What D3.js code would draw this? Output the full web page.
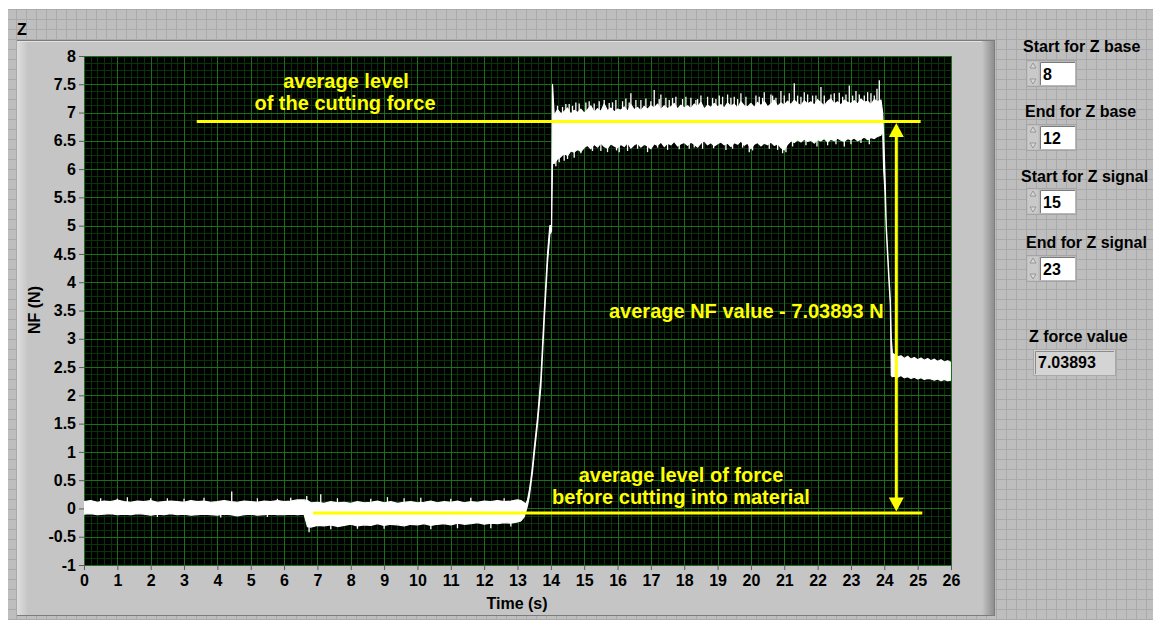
<!DOCTYPE html>
<html>
<head>
<meta charset="utf-8">
<script src="https://cdn.jsdelivr.net/npm/d3@7/dist/d3.min.js"></script>
<style>
  html, body { margin: 0; padding: 0; background: #fff; }
  svg { display: block; font-family: "Liberation Sans", Arial, sans-serif; font-weight: bold; }
</style>
</head>
<body>
<div id="chart"></div>
<script>
// Z force signal from a cutting test.

// Tick labels.
const xTicks = [0, 1, 2, 3, 4, 5, 6, 7, 8, 9, 10, 11, 12, 13, 14, 15, 16, 17, 18, 19, 20, 21, 22, 23, 24, 25, 26];
const yTicks = [-1, -0.5, 0, 0.5, 1, 1.5, 2, 2.5, 3, 3.5, 4, 4.5, 5, 5.5, 6, 6.5, 7, 7.5, 8];

// Signal envelope (upper / lower edge of the noisy trace), in s and N.
// Base level before the tool moves.
const baseTime = [0, 0.2, 0.4, 0.6, 0.8, 1, 1.2, 1.4, 1.6, 1.8, 2, 2.2, 2.4, 2.6, 2.8, 3, 3.2, 3.4, 3.6, 3.8, 4, 4.2, 4.4, 4.6, 4.8, 5, 5.2, 5.4, 5.6, 5.8, 6, 6.2, 6.4, 6.6];
const baseHigh = [0.12, 0.14, 0.11, 0.13, 0.12, 0.15, 0.12, 0.11, 0.13, 0.12, 0.14, 0.11, 0.12, 0.13, 0.12, 0.11, 0.14, 0.12, 0.13, 0.11, 0.12, 0.14, 0.12, 0.11, 0.13, 0.12, 0.11, 0.13, 0.12, 0.14, 0.12, 0.13, 0.15, 0.15];
const baseLow = [-0.1, -0.09, -0.11, -0.1, -0.09, -0.11, -0.1, -0.11, -0.09, -0.1, -0.12, -0.1, -0.11, -0.09, -0.11, -0.1, -0.12, -0.11, -0.1, -0.11, -0.12, -0.1, -0.11, -0.13, -0.11, -0.1, -0.12, -0.11, -0.1, -0.11, -0.11, -0.1, -0.11, -0.1];

// Tool touching down, still outside the material.
const restTime = [6.7, 6.8, 7, 7.2, 7.4, 7.6, 7.8, 8, 8.2, 8.4, 8.6, 8.8, 9, 9.2, 9.4, 9.6, 9.8, 10, 10.2, 10.4, 10.6, 10.8, 11, 11.2, 11.4, 11.6, 11.8, 12, 12.2, 12.4, 12.6, 12.8, 13, 13.1];
const restHigh = [0.14, 0.1, 0.11, 0.09, 0.12, 0.1, 0.11, 0.09, 0.12, 0.1, 0.11, 0.13, 0.1, 0.12, 0.09, 0.11, 0.12, 0.1, 0.11, 0.13, 0.1, 0.12, 0.11, 0.13, 0.1, 0.12, 0.11, 0.13, 0.12, 0.14, 0.12, 0.13, 0.15, 0.14];
const restLow = [-0.32, -0.33, -0.3, -0.31, -0.29, -0.32, -0.3, -0.28, -0.31, -0.29, -0.3, -0.27, -0.3, -0.28, -0.29, -0.31, -0.28, -0.29, -0.27, -0.3, -0.28, -0.27, -0.29, -0.26, -0.28, -0.27, -0.25, -0.28, -0.26, -0.27, -0.25, -0.26, -0.24, -0.22];

// Rise while cutting in.
const riseTime = [13.2, 13.25, 13.3, 13.35, 13.4, 13.45, 13.5, 13.6, 13.7, 13.8, 13.9, 13.97, 14.02, 14.05];
const riseHigh = [0.1, 0.08, 0.15, 0.3, 0.5, 0.75, 1.05, 1.6, 2.3, 3.45, 4.5, 5.0, 5.0, 7.5];
const riseLow = [-0.15, -0.05, 0.05, 0.2, 0.42, 0.65, 0.95, 1.5, 2.15, 3.3, 4.35, 4.85, 4.9, 6.1];

// Cutting.
const cutTime = [14.1, 14.2, 14.3, 14.4, 14.5, 14.6, 14.7, 14.8, 14.9, 15,
  15.1, 15.2, 15.3, 15.4, 15.5, 15.6, 15.7, 15.8, 15.9, 16,
  16.1, 16.2, 16.3, 16.4, 16.5, 16.6, 16.7, 16.8, 16.9, 17,
  17.1, 17.2, 17.3, 17.4, 17.5, 17.6, 17.7, 17.8, 17.9, 18,
  18.1, 18.2, 18.3, 18.4, 18.5, 18.6, 18.7, 18.8, 18.9, 19,
  19.1, 19.2, 19.3, 19.4, 19.5, 19.6, 19.7, 19.8, 19.9, 20,
  20.1, 20.2, 20.3, 20.4, 20.5, 20.6, 20.7, 20.8, 20.9, 21,
  21.1, 21.2, 21.3, 21.4, 21.5, 21.6, 21.7, 21.8, 21.9, 22,
  22.1, 22.2, 22.3, 22.4, 22.5, 22.6, 22.7, 22.8, 22.9, 23,
  23.1, 23.2, 23.3, 23.4, 23.5, 23.6, 23.7, 23.8, 23.9];
const cutHigh = [6.95, 7.05, 6.98, 7.02, 7.08, 6.97, 7.04, 7.0, 7.06, 6.99,
  7.05, 7.12, 7.0, 7.07, 7.02, 7.15, 7.03, 7.08, 7.01, 7.06,
  7.04, 7.1, 7.02, 7.14, 7.05, 7.09, 7.03, 7.11, 7.06, 7.12,
  7.08, 7.15, 7.05, 7.12, 7.07, 7.1, 7.16, 7.06, 7.13, 7.08,
  7.12, 7.07, 7.15, 7.1, 7.18, 7.06, 7.13, 7.09, 7.16, 7.1,
  7.14, 7.08, 7.17, 7.11, 7.15, 7.07, 7.19, 7.12, 7.1, 7.16,
  7.09, 7.18, 7.12, 7.2, 7.1, 7.15, 7.22, 7.11, 7.17, 7.13,
  7.2, 7.14, 7.22, 7.16, 7.12, 7.21, 7.15, 7.19, 7.13, 7.23,
  7.17, 7.12, 7.2, 7.24, 7.15, 7.19, 7.13, 7.22, 7.18, 7.16,
  7.21, 7.15, 7.24, 7.18, 7.2, 7.14, 7.23, 7.19, 7.22];
const cutLow = [6.1, 6.18, 6.22, 6.28, 6.24, 6.32, 6.3, 6.35, 6.31, 6.38,
  6.42, 6.36, 6.44, 6.39, 6.46, 6.4, 6.37, 6.45, 6.41, 6.38,
  6.44, 6.4, 6.47, 6.37, 6.43, 6.46, 6.39, 6.44, 6.41, 6.36,
  6.45, 6.42, 6.48, 6.4, 6.46, 6.43, 6.49, 6.41, 6.45, 6.47,
  6.42, 6.48, 6.44, 6.39, 6.46, 6.5, 6.43, 6.47, 6.41, 6.45,
  6.48, 6.43, 6.46, 6.4, 6.47, 6.44, 6.5, 6.42, 6.46, 6.36,
  6.44, 6.47, 6.41, 6.46, 6.43, 6.48, 6.42, 6.45, 6.38, 6.34,
  6.44, 6.5, 6.47, 6.52, 6.48, 6.53, 6.49, 6.51, 6.46, 6.52,
  6.5, 6.54, 6.48, 6.53, 6.5, 6.55, 6.51, 6.49, 6.54, 6.52,
  6.55, 6.5, 6.53, 6.57, 6.52, 6.56, 6.54, 6.58, 6.6];

// Tool leaving the material.
const dropTime = [23.95, 23.98, 24.02, 24.06, 24.1, 24.14, 24.18, 24.21, 24.24];
const dropHigh = [7.0, 6.6, 5.9, 5.0, 4.55, 4.1, 3.7, 3.0, 2.75];
const dropLow = [6.7, 6.0, 5.6, 4.9, 4.45, 4.0, 3.6, 2.35, 2.33];

// After the cut.
const tailTime = [24.3, 24.4, 24.5, 24.6, 24.7, 24.8, 24.9, 25, 25.1, 25.2, 25.3, 25.4, 25.5, 25.6, 25.7, 25.8, 25.9, 26];
const tailHigh = [2.72, 2.68, 2.7, 2.65, 2.69, 2.64, 2.67, 2.63, 2.66, 2.62, 2.65, 2.61, 2.64, 2.6, 2.63, 2.59, 2.61, 2.58];
const tailLow = [2.34, 2.32, 2.35, 2.31, 2.33, 2.3, 2.32, 2.29, 2.31, 2.28, 2.3, 2.29, 2.27, 2.29, 2.26, 2.28, 2.26, 2.27];

// Single noise spikes sticking out of the band.
const spikeTime = [0.5, 1.0, 1.3, 2.0, 2.2, 2.5, 3.0, 3.6, 4.1, 4.43, 5.2, 5.5, 5.8, 6.2, 6.68,
  6.75, 7.1, 7.4, 7.6, 8.2, 8.6, 9.0, 9.1, 9.6, 10.1, 10.4, 11.0, 11.2, 11.6, 12.2, 12.6, 12.8,
  14.15, 14.2, 14.25, 14.35, 14.4, 14.45, 14.5, 14.55, 14.65, 14.7, 14.75, 14.85, 14.9,
  15.05, 15.15, 15.25, 15.3, 15.45, 15.5, 15.6, 15.7, 15.75, 15.85, 15.95, 15.97,
  16.05, 16.15, 16.25, 16.3, 16.35, 16.4, 16.55, 16.6, 16.7, 16.85, 16.9, 17.0,
  17.1, 17.2, 17.25, 17.3, 17.45, 17.5, 17.55, 17.65, 17.75, 17.85, 17.95,
  18.05, 18.15, 18.2, 18.3, 18.35, 18.4, 18.5, 18.55, 18.7, 18.85, 18.88, 18.95,
  19.05, 19.15, 19.25, 19.3, 19.4, 19.45, 19.5, 19.6, 19.7, 19.75, 19.85, 19.95,
  20.05, 20.15, 20.25, 20.35, 20.4, 20.55, 20.6, 20.65, 20.75, 20.8, 20.9, 20.95,
  21.0, 21.05, 21.15, 21.25, 21.3, 21.4, 21.5, 21.6, 21.65, 21.7, 21.85, 21.95, 21.98,
  22.1, 22.2, 22.3, 22.4, 22.5, 22.55, 22.65, 22.75, 22.8, 22.85, 22.95,
  23.0, 23.05, 23.15, 23.25, 23.3, 23.4, 23.5, 23.55, 23.6, 23.7, 23.78, 23.85];
const spikeForce = [0.18, 0.17, 0.2, 0.18, -0.15, 0.18, 0.17, 0.19, -0.16, 0.3, 0.18, -0.15, 0.17, 0.19, 0.22,
  -0.42, 0.25, -0.37, 0.18, -0.36, 0.17, -0.36, 0.2, 0.18, 0.19, -0.37, 0.17, -0.35, 0.19, -0.35, 0.18, -0.32,
  6.05, 7.12, 6.12, 7.1, 6.15, 7.15, 6.18, 7.15, 7.12, 6.2, 7.18, 7.16, 6.28,
  7.18, 7.2, 6.32, 7.16, 7.2, 6.32, 7.22, 6.3, 7.17, 7.18, 7.22, 6.33,
  6.3, 7.2, 7.25, 6.32, 7.18, 7.34, 7.22, 6.36, 7.22, 7.25, 6.3, 7.2,
  7.4, 6.38, 7.24, 7.32, 7.26, 6.34, 7.22, 7.26, 7.28, 6.35, 7.24,
  7.28, 6.36, 7.26, 6.38, 7.22, 7.24, 7.3, 6.36, 7.28, 7.26, 6.37, 7.24,
  7.3, 7.28, 6.34, 7.32, 7.26, 6.36, 7.28, 7.24, 7.34, 6.38, 7.28, 6.3,
  6.33, 7.3, 7.28, 7.26, 7.36, 6.36, 7.32, 7.3, 7.26, 6.34, 7.38, 6.28,
  7.3, 6.3, 7.34, 6.4, 7.52, 7.3, 7.28, 7.36, 6.42, 7.32, 7.3, 7.3, 6.4,
  7.45, 7.3, 6.42, 7.32, 7.34, 6.44, 7.35, 7.28, 6.4, 7.32, 7.48,
  6.44, 7.3, 7.38, 7.32, 6.46, 7.3, 7.36, 6.44, 7.34, 7.3, 7.42, 7.57];

// Annotation levels (N) and their time extents (s).
const cutLevel = 6.84;
const cutLevelSpan = [3.38, 25.09];
const baseLevel = -0.08;
const baseLevelSpan = [6.87, 25.14];
const arrowTime = 24.36;

// Front panel controls.
const controlLabels = ['Start for Z base', 'End for Z base', 'Start for Z signal', 'End for Z signal'];
const controlValues = ['8', '12', '15', '23'];
const indicatorLabel = 'Z force value';
const indicatorValue = '7.03893';

function drawPanel() {
    const width = 1153;
    const height = 620;

    const svg = d3.select('#chart')
        .append('svg')
        .attr('width', width)
        .attr('height', height);

    const defs = svg.append('defs');

    // Front panel grid pattern.
    const pattern = defs.append('pattern')
        .attr('id', 'panelGrid')
        .attr('patternUnits', 'userSpaceOnUse')
        .attr('x', 7)
        .attr('y', 0)
        .attr('width', 10)
        .attr('height', 10);
    pattern.append('rect')
        .attr('width', 10)
        .attr('height', 10)
        .attr('fill', '#bebebe');
    pattern.append('path')
        .attr('d', 'M9.5,0V10M0,9.5H10')
        .attr('stroke', '#aaaaaa')
        .attr('stroke-width', 1);

    // Bevel gradients for the graph frame.
    const leftBevel = defs.append('linearGradient').attr('id', 'leftBevel');
    leftBevel.append('stop').attr('offset', '0%').attr('stop-color', '#dedede');
    leftBevel.append('stop').attr('offset', '100%').attr('stop-color', '#c8c8c8');
    const rightShade = defs.append('linearGradient').attr('id', 'rightShade');
    rightShade.append('stop').attr('offset', '0%').attr('stop-color', '#c5c5c5');
    rightShade.append('stop').attr('offset', '100%').attr('stop-color', '#8e8e8e');

    defs.append('clipPath').attr('id', 'plotClip')
        .append('rect')
        .attr('x', 84).attr('y', 56)
        .attr('width', 867).attr('height', 509);

    svg.append('rect')
        .attr('x', 8).attr('y', 9)
        .attr('width', width - 8).attr('height', height - 9)
        .attr('fill', 'url(#panelGrid)');

    // Graph frame.
    svg.append('rect')
        .attr('x', 17).attr('y', 40)
        .attr('width', 978).attr('height', 576)
        .attr('fill', '#c5c5c5');
    svg.append('rect')
        .attr('x', 17).attr('y', 40)
        .attr('width', 10).attr('height', 576)
        .attr('fill', 'url(#leftBevel)');
    svg.append('rect')
        .attr('x', 982).attr('y', 40)
        .attr('width', 12).attr('height', 576)
        .attr('fill', 'url(#rightShade)');
    svg.append('path')
        .attr('d', 'M17,40.5H994M994.5,40V616M17,615.5H995')
        .attr('stroke', '#7c7c7c')
        .attr('stroke-width', 1)
        .attr('fill', 'none');
    svg.append('path')
        .attr('d', 'M17,41.5H982')
        .attr('stroke', '#e2e2e2')
        .attr('fill', 'none');

    svg.append('text')
        .attr('x', 17).attr('y', 35)
        .attr('font-size', 16)
        .attr('fill', '#000')
        .text('Z');

    const x = d3.scaleLinear().domain([0, 26]).range([84, 951]);
    const y = d3.scaleLinear().domain([-1, 8]).range([565, 56]);

    // Plot background and grid.
    svg.append('rect')
        .attr('x', 84).attr('y', 56)
        .attr('width', 867).attr('height', 509)
        .attr('fill', '#000');

    const grid = svg.append('g').attr('shape-rendering', 'crispEdges');
    grid.selectAll('.minor-x')
        .data(d3.range(0, 26.001, 0.2))
        .enter().append('line')
        .attr('x1', d => Math.round(x(d)) + 0.5).attr('x2', d => Math.round(x(d)) + 0.5)
        .attr('y1', 56).attr('y2', 565)
        .attr('stroke', '#093409');
    grid.selectAll('.minor-y')
        .data(d3.range(-1, 8.001, 0.125))
        .enter().append('line')
        .attr('y1', d => Math.round(y(d)) + 0.5).attr('y2', d => Math.round(y(d)) + 0.5)
        .attr('x1', 84).attr('x2', 951)
        .attr('stroke', '#093409');
    grid.selectAll('.major-x')
        .data(xTicks)
        .enter().append('line')
        .attr('x1', d => Math.round(x(d)) + 0.5).attr('x2', d => Math.round(x(d)) + 0.5)
        .attr('y1', 56).attr('y2', 565)
        .attr('stroke', '#197019');
    grid.selectAll('.major-y')
        .data(yTicks)
        .enter().append('line')
        .attr('y1', d => Math.round(y(d)) + 0.5).attr('y2', d => Math.round(y(d)) + 0.5)
        .attr('x1', 84).attr('x2', 951)
        .attr('stroke', '#197019');

    // Axes.
    const xAxis = svg.append('g')
        .attr('transform', 'translate(0,565)')
        .call(d3.axisBottom(x).tickValues(xTicks).tickSize(5).tickPadding(5).tickFormat(d => String(d)));
    const yAxis = svg.append('g')
        .attr('transform', 'translate(84,0)')
        .call(d3.axisLeft(y).tickValues(yTicks).tickSize(5).tickPadding(3).tickFormat(d => String(d)));
    [xAxis, yAxis].forEach(axis => {
        axis.select('.domain').remove();
        axis.selectAll('line').attr('stroke', '#5a5a5a');
        axis.selectAll('text')
            .attr('fill', '#000')
            .attr('font-size', 16)
            .attr('font-family', '"Liberation Sans", Arial, sans-serif')
            .attr('font-weight', 'bold');
    });

    svg.append('text')
        .attr('x', 517).attr('y', 609)
        .attr('text-anchor', 'middle')
        .attr('font-size', 16)
        .text('Time (s)');
    svg.append('text')
        .attr('transform', 'translate(40,310) rotate(-90)')
        .attr('text-anchor', 'middle')
        .attr('font-size', 16)
        .text('NF (N)');

    // Signal band.
    const signal = []
        .concat(baseTime.map((t, i) => ({ t, hi: baseHigh[i], lo: baseLow[i] })))
        .concat(restTime.map((t, i) => ({ t, hi: restHigh[i], lo: restLow[i] })))
        .concat(riseTime.map((t, i) => ({ t, hi: riseHigh[i], lo: riseLow[i] })))
        .concat(cutTime.map((t, i) => ({ t, hi: cutHigh[i], lo: cutLow[i] })))
        .concat(dropTime.map((t, i) => ({ t, hi: dropHigh[i], lo: dropLow[i] })))
        .concat(tailTime.map((t, i) => ({ t, hi: tailHigh[i], lo: tailLow[i] })));

    const plot = svg.append('g').attr('clip-path', 'url(#plotClip)');

    const band = d3.area()
        .x(d => x(d.t))
        .y0(d => y(d.lo))
        .y1(d => y(d.hi));

    plot.append('path')
        .datum(signal)
        .attr('d', band)
        .attr('fill', '#fff')
        .attr('stroke', '#fff')
        .attr('stroke-width', 1.2)
        .attr('stroke-linejoin', 'round');

    // Spikes start from the middle of the nearest band sample.
    const bisect = d3.bisector(d => d.t).center;
    plot.selectAll('.spike')
        .data(spikeTime.map((t, i) => ({ t, v: spikeForce[i] })))
        .enter().append('line')
        .attr('x1', d => x(d.t)).attr('x2', d => x(d.t))
        .attr('y1', d => {
            const s = signal[bisect(signal, d.t)];
            return y((s.hi + s.lo) / 2);
        })
        .attr('y2', d => y(d.v))
        .attr('stroke', '#fff')
        .attr('stroke-width', 1.3);

    // Yellow annotations.
    const yellow = '#ffff00';
    const notes = svg.append('g');
    notes.append('line')
        .attr('x1', x(cutLevelSpan[0])).attr('x2', x(cutLevelSpan[1]))
        .attr('y1', y(cutLevel)).attr('y2', y(cutLevel))
        .attr('stroke', yellow).attr('stroke-width', 3);
    notes.append('line')
        .attr('x1', x(baseLevelSpan[0])).attr('x2', x(baseLevelSpan[1]))
        .attr('y1', y(baseLevel)).attr('y2', y(baseLevel))
        .attr('stroke', yellow).attr('stroke-width', 3);

    const ax = x(arrowTime);
    const top = y(cutLevel) + 1.5;
    const bottom = y(baseLevel) - 1.5;
    notes.append('line')
        .attr('x1', ax).attr('x2', ax)
        .attr('y1', top + 12).attr('y2', bottom - 12)
        .attr('stroke', yellow).attr('stroke-width', 3);
    notes.append('path')
        .attr('d', `M${ax},${top}L${ax - 7.5},${top + 14}L${ax + 7.5},${top + 14}Z`)
        .attr('fill', yellow);
    notes.append('path')
        .attr('d', `M${ax},${bottom}L${ax - 7.5},${bottom - 14}L${ax + 7.5},${bottom - 14}Z`)
        .attr('fill', yellow);

    const noteText = [
        { text: 'average level', x: 346, y: 88, anchor: 'middle' },
        { text: 'of the cutting force', x: 345, y: 110, anchor: 'middle' },
        { text: 'average NF value - 7.03893 N', x: 609, y: 318, anchor: 'start' },
        { text: 'average level of force', x: 681, y: 482, anchor: 'middle' },
        { text: 'before cutting into material', x: 681, y: 504, anchor: 'middle' }
    ];
    notes.selectAll('.note')
        .data(noteText)
        .enter().append('text')
        .attr('x', d => d.x).attr('y', d => d.y)
        .attr('text-anchor', d => d.anchor)
        .attr('font-size', 20)
        .attr('fill', yellow)
        .text(d => d.text);

    // Numeric controls on the right.
    const labelX = [1023, 1025, 1021, 1026];
    const labelY = [52, 117, 182, 248];
    const boxY = [60, 124, 188, 255];
    const controls = svg.append('g');
    controlLabels.forEach((label, i) => {
        controls.append('text')
            .attr('x', labelX[i]).attr('y', labelY[i])
            .attr('font-size', 16)
            .text(label);
        const g = controls.append('g').attr('transform', `translate(1026,${boxY[i]})`);
        g.append('rect')
            .attr('x', 0.5).attr('y', 0.5)
            .attr('width', 50).attr('height', 26)
            .attr('fill', '#b9b9b9').attr('stroke', '#a4a4a4');
        g.append('rect')
            .attr('x', 1.5).attr('y', 1.5)
            .attr('width', 11).attr('height', 24)
            .attr('fill', '#c9c9c9');
        g.append('path')
            .attr('d', 'M7,3L4,8H10Z')
            .attr('fill', '#d8d8d8').attr('stroke', '#8a8a8a').attr('stroke-width', 0.8);
        g.append('path')
            .attr('d', 'M7,24L4,19H10Z')
            .attr('fill', '#d8d8d8').attr('stroke', '#8a8a8a').attr('stroke-width', 0.8);
        g.append('rect')
            .attr('x', 14).attr('y', 2)
            .attr('width', 35).attr('height', 23)
            .attr('fill', '#fff');
        g.append('path')
            .attr('d', 'M14.5,25V2.5H49')
            .attr('stroke', '#7a7a7a').attr('fill', 'none');
        g.append('text')
            .attr('x', 17).attr('y', 20)
            .attr('font-size', 16)
            .text(controlValues[i]);
    });

    // Result indicator.
    controls.append('text')
        .attr('x', 1029).attr('y', 342)
        .attr('font-size', 16)
        .text(indicatorLabel);
    controls.append('rect')
        .attr('x', 1033.5).attr('y', 349.5)
        .attr('width', 82).attr('height', 26)
        .attr('fill', '#d4d4d4').attr('stroke', '#a8a8a8');
    controls.append('path')
        .attr('d', 'M1035.5,374V351.5H1114')
        .attr('stroke', '#8a8a8a').attr('fill', 'none');
    controls.append('text')
        .attr('x', 1038).attr('y', 368)
        .attr('font-size', 16)
        .text(indicatorValue);
}

drawPanel();
</script>
</body>
</html>
